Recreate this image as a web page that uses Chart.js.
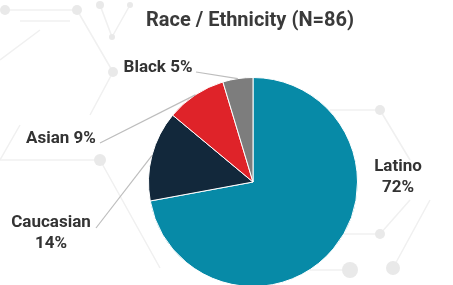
<!DOCTYPE html>
<html lang="en">
<head>
    <meta charset="UTF-8">
    <title>Race / Ethnicity (N=86)</title>
    <style>
        html, body {
            margin: 0;
            padding: 0;
            background: #ffffff;
            overflow: hidden;
        }
        #wrap {
            width: 453px;
            height: 285px;
            overflow: hidden;
        }
    </style>
    <script src="https://cdn.jsdelivr.net/npm/chart.js"></script>
</head>
<body>
    <div id="wrap">
        <canvas id="graficoEtnia" width="453" height="300"></canvas>
    </div>

    <script>
        const titolo = 'Race / Ethnicity (N=86)';
        const categorie = ['Latino', 'Caucasian', 'Asian', 'Black'];
        const conteggi = [62, 12, 8, 4];
        const colori = ['#078aa7', '#12283b', '#df2329', '#7d7d7d'];

        const totale = conteggi.reduce((acc, n) => acc + n, 0);

        // where each label sits and where its leader line starts (layout only)
        const etichette = [
            { righe: ['Latino', '{p}'], x: 398, y: 167, lineaDa: null },
            { righe: ['Caucasian', '{p}'], x: 51, y: 223, lineaDa: [96, 228] },
            { righe: ['Asian {p}'], x: 61, y: 139, lineaDa: [100, 143] },
            { righe: ['Black {p}'], x: 158, y: 68, lineaDa: [196, 72] },
        ];

        // faint hexagon network in the background (decoration)
        const sfondoLinee = [
            [[5, 10], [77, 10]], [[20, 21], [70, 21]], [[77, 10], [113, 72]], [[113, 72], [90, 115]],
            [[100, 5], [112, 37]], [[112, 37], [130, 5]], [[0, 160], [100, 160]], [[100, 160], [160, 268]],
            [[330, 110], [380, 110]], [[380, 110], [410, 160]], [[300, 234], [380, 234]],
            [[380, 234], [410, 200]], [[350, 270], [300, 270]], [[393, 268], [430, 200]],
            [[20, 125], [0, 160]], [[40, 30], [0, 60]],
        ];
        const sfondoPunti = [
            [5, 10, 5], [77, 10, 5], [100, 5, 4], [130, 5, 3], [113, 72, 5], [112, 37, 3],
            [100, 160, 6], [380, 110, 5], [380, 234, 5], [350, 270, 8], [393, 268, 7],
        ];

        const pluginSfondo = {
            id: 'sfondo',
            beforeDraw(chart) {
                const ctx = chart.ctx;
                ctx.save();
                ctx.strokeStyle = '#f0f0f0';
                ctx.lineWidth = 1.5;
                sfondoLinee.forEach(([a, b]) => {
                    ctx.beginPath();
                    ctx.moveTo(a[0], a[1]);
                    ctx.lineTo(b[0], b[1]);
                    ctx.stroke();
                });
                ctx.fillStyle = '#e9e9e9';
                sfondoPunti.forEach(([x, y, r]) => {
                    ctx.beginPath();
                    ctx.arc(x, y, r, 0, Math.PI * 2);
                    ctx.fill();
                });
                ctx.restore();
            }
        };

        const pluginEtichette = {
            id: 'etichette',
            afterDatasetsDraw(chart) {
                const ctx = chart.ctx;
                const meta = chart.getDatasetMeta(0);
                ctx.save();

                // title
                ctx.fillStyle = '#3a3a3a';
                ctx.font = 'bold 20px Roboto, Arial, sans-serif';
                ctx.textAlign = 'center';
                ctx.textBaseline = 'middle';
                ctx.fillText(titolo, 250, 21);

                meta.data.forEach((arc, i) => {
                    const lab = etichette[i];
                    const perc = Math.round(conteggi[i] / totale * 100) + '%';
                    const mid = (arc.startAngle + arc.endAngle) / 2;
                    const ex = arc.x + Math.cos(mid) * arc.outerRadius;
                    const ey = arc.y + Math.sin(mid) * arc.outerRadius;

                    if (lab.lineaDa) {
                        ctx.strokeStyle = '#bdbdbd';
                        ctx.lineWidth = 1.2;
                        ctx.beginPath();
                        ctx.moveTo(lab.lineaDa[0], lab.lineaDa[1]);
                        ctx.lineTo(ex, ey);
                        ctx.stroke();
                    }

                    ctx.fillStyle = '#333333';
                    ctx.font = 'bold 17px Roboto, Arial, sans-serif';
                    ctx.textAlign = 'center';
                    lab.righe.forEach((r, k) => {
                        ctx.fillText(r.replace('{p}', perc), lab.x, lab.y + k * 21);
                    });
                });
                ctx.restore();
            }
        };

        const ctx = document.getElementById('graficoEtnia').getContext('2d');
        const grafico = new Chart(ctx, {
            type: 'pie',
            data: {
                labels: categorie,
                datasets: [{
                    data: conteggi,
                    backgroundColor: colori,
                    borderColor: '#ffffff',
                    borderWidth: 1,
                }],
            },
            options: {
                responsive: false,
                animation: false,
                layout: {
                    padding: { left: 148, right: 95, top: 77, bottom: 13 },
                },
                plugins: {
                    legend: { display: false },
                    tooltip: { enabled: false },
                    title: { display: false },
                },
            },
            plugins: [pluginSfondo, pluginEtichette],
        });
    </script>
</body>
</html>
